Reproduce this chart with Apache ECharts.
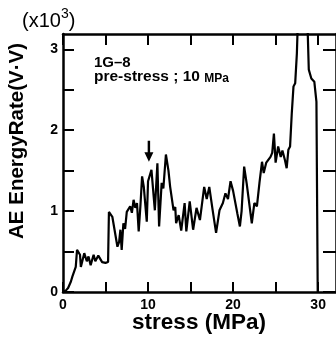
<!DOCTYPE html>
<html>
<head>
<meta charset="utf-8">
<script src="https://cdn.jsdelivr.net/npm/echarts@6/dist/echarts.min.js"></script>
<style>
html, body { margin: 0; padding: 0; background: #fff; overflow: hidden; }
#main { width: 336px; height: 338px; }
</style>
</head>
<body>
<div id="main"></div>
<script>
// stress (MPa) and AE energy rate (x10^3 V·V)
var stress = [0.0, 0.35, 0.6, 0.93, 1.1, 1.3, 1.5, 1.65, 2.0, 2.1, 2.5, 2.8, 3.0, 3.25, 3.6, 3.8, 4.15, 4.6, 5.0, 5.3,
	5.4, 5.8, 6.4, 6.6, 6.75, 6.9, 7.1, 7.3, 7.5, 7.9, 8.1, 8.3, 8.5, 8.7, 8.9, 9.1, 9.3, 9.5, 9.85, 10.0,
	10.4, 10.8, 11.1, 11.3, 11.6, 11.8, 12.1, 12.4, 12.6, 13.0, 13.2, 13.3, 13.6, 13.9, 14.3, 14.5, 14.9, 15.3, 15.7, 16.1,
	16.6, 16.9, 17.2, 17.6, 18.0, 18.4, 18.8, 19.1, 19.4, 19.7, 20.0, 20.5, 20.8, 21.0, 21.3, 21.6, 22.2, 22.5, 22.8, 23.1,
	23.4, 23.6, 23.9, 24.4, 24.6, 24.8, 25.0, 25.3, 25.6, 25.8, 26.1, 26.3, 26.5, 26.7, 26.9, 27.1, 27.3, 27.5, 27.6, 28.2,
	28.7, 28.75, 28.9, 29.2, 29.55, 29.8, 29.95];
var energy = [0.0, 0.02, 0.05, 0.13, 0.19, 0.17, 0.31, 0.52, 0.46, 0.31, 0.48, 0.38, 0.44, 0.33, 0.46, 0.38, 0.45, 0.37, 0.36, 0.37,
	0.99, 0.93, 0.56, 0.62, 0.77, 0.52, 0.85, 0.78, 0.99, 1.06, 0.98, 1.14, 1.04, 1.1, 0.75, 1.06, 1.43, 1.3, 0.87, 1.37,
	1.51, 1.01, 1.59, 0.81, 1.35, 1.28, 1.70, 1.5, 1.30, 1.01, 1.05, 0.85, 0.95, 0.76, 1.1, 0.75, 1.12, 0.77, 1.04, 0.89,
	1.30, 1.15, 1.30, 1.01, 0.73, 1.01, 1.1, 1.22, 1.15, 1.37, 1.25, 0.97, 0.81, 1.0, 1.55, 1.34, 0.85, 1.1, 1.06, 1.35,
	1.61, 1.47, 1.6, 1.67, 1.72, 1.96, 1.60, 1.80, 1.67, 1.75, 1.63, 1.53, 1.76, 1.8, 2.21, 2.54, 2.58, 2.95, 3.3, 3.6,
	3.6, 3.3, 2.75, 2.64, 2.6, 2.35, 0.0];

var xTicks = [0, 5, 10, 15, 20, 25, 30];
var xLabels = [0, 10, 20, 30];
var yTicks = [0, 0.5, 1, 1.5, 2, 2.5, 3];
var yLabels = [0, 1, 2, 3];
var arrowAt = [10.1, 1.74];

var font = 'Liberation Sans, Arial, sans-serif';
var chart = echarts.init(document.getElementById('main'));

var points = [];
for (var i = 0; i < stress.length; i++) {
	points.push([stress[i], energy[i]]);
}

var axisLine = { onZero: false, lineStyle: { color: '#000', width: 2.5 } };
var tickStyle = { color: '#000', width: 2 };

var option = {
	animation: false,
	backgroundColor: '#fff',
	// the frame runs past the right edge of the picture
	grid: { left: 63, right: -2, top: 34, bottom: 46 },
	xAxis: [{
		type: 'value', min: 0, max: 32.1, position: 'bottom',
		axisLine: axisLine,
		axisTick: { inside: true, length: 10, customValues: xTicks, lineStyle: tickStyle },
		axisLabel: { customValues: xLabels, margin: 6, color: '#000', fontSize: 14, fontWeight: 'bold', fontFamily: font },
		splitLine: { show: false }
	}, {
		type: 'value', min: 0, max: 32.1, position: 'top',
		axisLine: axisLine,
		axisTick: { inside: true, length: 11, customValues: xTicks, lineStyle: tickStyle },
		axisLabel: { show: false },
		splitLine: { show: false }
	}],
	yAxis: [{
		type: 'value', min: 0, max: 3.19, position: 'left',
		axisLine: axisLine,
		axisTick: { inside: true, length: 11, customValues: yTicks, lineStyle: tickStyle },
		axisLabel: { customValues: yLabels, margin: 5, color: '#000', fontSize: 14, fontWeight: 'bold', fontFamily: font },
		splitLine: { show: false }
	}, {
		type: 'value', min: 0, max: 3.19, position: 'right',
		axisLine: axisLine,
		axisTick: { inside: true, length: 13, customValues: yTicks, lineStyle: tickStyle },
		axisLabel: { show: false },
		splitLine: { show: false }
	}],
	series: [{
		type: 'line',
		data: points,
		symbol: 'none',
		clip: true,
		lineStyle: { color: '#000', width: 2.2 },
		markPoint: {
			symbol: 'path://M4,0 L7,0 L7,12 L11,12 L5.5,22 L0,12 L4,12 Z',
			symbolSize: [9, 21],
			itemStyle: { color: '#000' },
			label: { show: false },
			data: [{ coord: arrowAt }]
		}
	}],
	graphic: [{
		type: 'text', left: 22, top: 7,
		style: {
			text: '{a|(x10}{s|3}{a|)}',
			rich: {
				a: { fontSize: 20, fontFamily: font, fill: '#000', verticalAlign: 'bottom', lineHeight: 24 },
				s: { fontSize: 14, fontFamily: font, fill: '#000', verticalAlign: 'top', lineHeight: 24, padding: [0, 0, 10, 0] }
			}
		}
	}, {
		type: 'text', x: 17, y: 141, rotation: Math.PI / 2,
		style: {
			text: 'AE EnergyRate(V·V)', fontSize: 20.5, fontWeight: 'bold', fontFamily: font, fill: '#000',
			textAlign: 'center', textVerticalAlign: 'middle'
		}
	}, {
		type: 'text', x: 199, y: 323,
		style: {
			text: 'stress (MPa)', fontSize: 22.5, fontWeight: 'bold', fontFamily: font, fill: '#000',
			textAlign: 'center', textVerticalAlign: 'middle'
		}
	}, {
		type: 'text', left: 94, top: 55,
		style: { text: '1G–8', fontSize: 15, fontWeight: 'bold', fontFamily: font, fill: '#000' }
	}, {
		type: 'text', left: 94, top: 69,
		style: {
			text: '{a|pre-stress ; 10 }{b|MPa}',
			rich: {
				a: { fontSize: 15.5, fontWeight: 'bold', fontFamily: font, fill: '#000', verticalAlign: 'bottom' },
				b: { fontSize: 12, fontWeight: 'bold', fontFamily: font, fill: '#000', verticalAlign: 'bottom' }
			}
		}
	}]
};

chart.setOption(option);
</script>
</body>
</html>
